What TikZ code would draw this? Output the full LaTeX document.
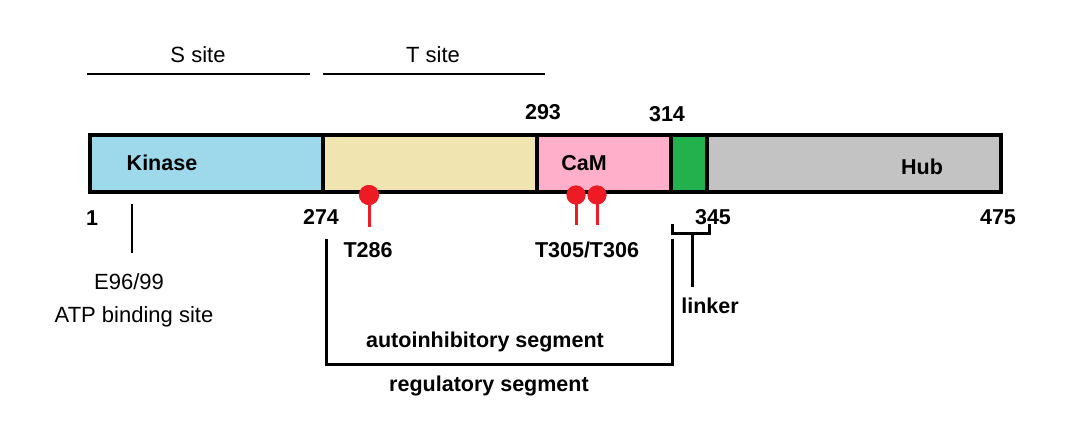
\documentclass[tikz,border=0pt]{standalone}
\usepackage{fontspec}
\setmainfont{Liberation Sans}
\definecolor{kinc}{HTML}{9DD9EA}
\definecolor{yelc}{HTML}{F0E4B0}
\definecolor{pinkc}{HTML}{FFAFC9}
\definecolor{grnc}{HTML}{22B14C}
\definecolor{gryc}{HTML}{C3C3C3}
\definecolor{redc}{HTML}{ED1C24}
\begin{document}
\begin{tikzpicture}[x=1pt,y=-1pt,
  seg/.style={draw=black,line width=3.2pt,inner sep=0,outer sep=0,minimum height=57pt},
  bl/.style={font=\fontsize{21.5}{25}\selectfont\bfseries,inner sep=0},
  rg/.style={font=\fontsize{22}{26}\selectfont,inner sep=0},
  thinln/.style={line width=1.5pt},
  brk/.style={line width=3pt},
  phos/.style={circle,fill=redc,inner sep=0,minimum size=20pt},
  stick/.style={draw=redc,line width=3pt}]
\useasboundingbox (0,0) rectangle (1078,445);
% site lines
\coordinate (s1) at (87,74); \coordinate (s2) at (310,74);
\coordinate (t1) at (323,74); \coordinate (t2) at (545,74);
\draw[thinln] (s1) -- (s2);
\draw[thinln] (t1) -- (t2);
\node[rg] (ssite) at (198,55) {S site};
\node[rg] (tsite) at (433,55) {T site};
% bar segments
\node[seg,fill=kinc,minimum width=233pt] (kin) at (206.5,163.5) {};
\node[seg,fill=yelc,minimum width=214pt] (reg) at (430,163.5) {};
\node[seg,fill=pinkc,minimum width=134pt] (cam) at (604,163.5) {};
\node[seg,fill=grnc,minimum width=36pt] (lnk) at (689,163.5) {};
\node[seg,fill=gryc,minimum width=294pt] (hub) at (854,163.5) {};
\node[bl] (kinlbl) at (162,163) {Kinase};
\node[bl] (camlbl) at (584,163) {CaM};
\node[bl] (hublbl) at (922,167) {Hub};
% numbers
\node[bl] (n293) at (543,112) {293};
\node[bl] (n314) at (667,114) {314};
\node[bl] (n1) at (92,218) {1};
\node[bl] (n274) at (321,217) {274};
\node[bl] (n345) at (713,217) {345};
\node[bl] (n475) at (998,217) {475};
% E96/99
\coordinate (e1) at (132,204); \coordinate (e2) at (132,253);
\draw[thinln] (e1) -- (e2);
\node[rg] (e96) at (129,282) {E96/99};
\node[rg] (atp) at (134,317) {ATP binding site};
% phosphosites
\coordinate (q286) at (369,227);
\coordinate (q305) at (576,225);
\coordinate (q306) at (597,225);
\node[phos] (p286) at (369,195) {};
\node[phos,minimum size=19pt] (p305) at (576,195) {};
\node[phos,minimum size=19pt] (p306) at (597,195) {};
\draw[stick] (p286.center) -- (q286);
\draw[stick] (p305.center) -- (q305);
\draw[stick] (p306.center) -- (q306);
\node[phos] at (p286) {};
\node[phos,minimum size=19pt] at (p305) {};
\node[phos,minimum size=19pt] at (p306) {};
\node[bl] (t286) at (368,250) {T286};
\node[bl] (t305) at (587,250) {T305/T306};
% regulatory bracket
\coordinate (r1) at (326,239); \coordinate (r2) at (326,364);
\coordinate (r3) at (672,364); \coordinate (r4) at (672,239);
\draw[brk] (r1) -- (r2) -- (r3) -- (r4);
\node[bl] (auto) at (485,342) {autoinhibitory segment};
\node[bl] (regseg) at (489,386) {regulatory segment};
% linker bracket
\coordinate (l1) at (672,224); \coordinate (l2) at (672,233);
\coordinate (l3) at (709,233); \coordinate (l4) at (709,224);
\coordinate (lm) at (692,233); \coordinate (lb) at (692,287);
\draw[brk] (l1) -- (l2) -- (l3) -- (l4);
\draw[brk] (lm) -- (lb);
\node[bl] (linker) at (710,306) {linker};
\end{tikzpicture}
\end{document}
